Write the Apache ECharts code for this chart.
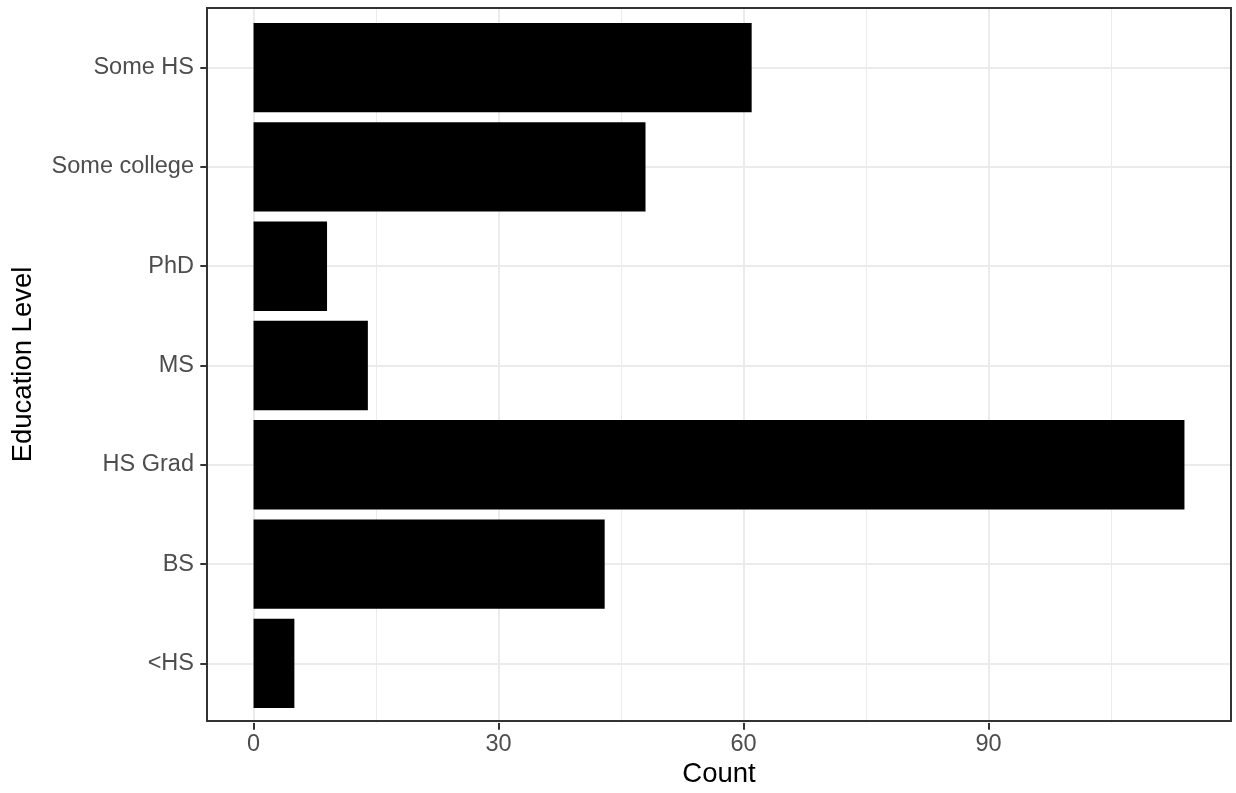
<!DOCTYPE html>
<html>
<head>
<meta charset="utf-8">
<script src="https://cdn.jsdelivr.net/npm/echarts@6/dist/echarts.min.js"></script>
<style>
html, body { margin: 0; padding: 0; background: #fff; }
#chart { width: 1236px; height: 793px; }
</style>
</head>
<body>
<div id="chart"></div>
<script>
// data (bottom to top, as the category axis runs)
var categories = ['<HS', 'BS', 'HS Grad', 'MS', 'PhD', 'Some college', 'Some HS'];
var counts = [5, 43, 114, 14, 9, 48, 61];
var xTicks = [0, 30, 60, 90];

// panel box, px
var L = 207, R = 1231, T = 8, B = 723;

// ggplot style expansion: 5% on the count axis, 0.6 band on the discrete one
var dataMax = Math.max.apply(null, counts);
var xLo = -0.05 * dataMax, xHi = 1.05 * dataMax;
var pxU = (R - L) / (xHi - xLo);
var x0 = L - xLo * pxU;
var xEnd = 120;
var band = (B - T) / (categories.length + 0.2);

var font = 'Liberation Sans, Arial, sans-serif';
var tickColor = '#333333';
var labColor = '#4D4D4D';
var gridColor = '#EBEBEB';

var hidden = { show: false };

var myChart = echarts.init(document.getElementById('chart'));

var option = {
  animation: false,
  backgroundColor: '#fff',
  textStyle: { fontFamily: font },
  grid: [
    // 0: panel border + axis titles
    { left: L, top: T, width: R - L, height: B - T, show: true,
      borderColor: '#333333', borderWidth: 2, backgroundColor: 'transparent', z: 10 },
    // 1: bars
    { left: x0, top: T + 0.1 * band, width: xEnd * pxU, height: categories.length * band },
    // 2: vertical grid lines + x labels
    { left: x0, top: T, width: xEnd * pxU, height: B - T },
    // 3: horizontal grid lines + y labels
    { left: L, top: T + 0.6 * band, width: R - L, height: (categories.length - 1) * band }
  ],
  xAxis: [
    { gridIndex: 0, type: 'value', min: 0, max: 1,
      axisLine: hidden, axisTick: hidden, axisLabel: hidden, splitLine: hidden,
      name: 'Count', nameLocation: 'middle', nameGap: 39,
      nameTextStyle: { color: '#000', fontSize: 27.5, fontFamily: font } },
    { gridIndex: 1, type: 'value', min: 0, max: xEnd, show: false },
    { gridIndex: 2, type: 'value', min: 0, max: xEnd, interval: 30,
      axisLine: hidden,
      axisTick: { show: true, length: 6.7, customValues: xTicks,
        lineStyle: { color: tickColor, width: 2 } },
      axisLabel: { color: labColor, fontSize: 23.5, margin: 10, fontFamily: font,
        customValues: xTicks },
      splitLine: { show: true, lineStyle: { color: gridColor, width: 2 } },
      minorTick: { show: false, splitNumber: 2 },
      minorSplitLine: { show: true, lineStyle: { color: gridColor, width: 1 } } },
    { gridIndex: 3, type: 'value', min: 0, max: 1, show: false }
  ],
  yAxis: [
    { gridIndex: 0, type: 'value', min: 0, max: 1,
      axisLine: hidden, axisTick: hidden, axisLabel: hidden, splitLine: hidden,
      name: 'Education Level', nameLocation: 'middle', nameGap: 170,
      nameTextStyle: { color: '#000', fontSize: 27.5, fontFamily: font } },
    { gridIndex: 1, type: 'category', data: categories, show: false },
    { gridIndex: 2, type: 'value', min: 0, max: 1, show: false },
    { gridIndex: 3, type: 'category', data: categories, boundaryGap: false,
      axisLine: hidden,
      axisTick: { show: true, length: 6.7, interval: 0,
        lineStyle: { color: tickColor, width: 2 } },
      axisLabel: { color: labColor, fontSize: 23.5, margin: 13, interval: 0, fontFamily: font },
      splitLine: { show: true, interval: 0, lineStyle: { color: gridColor, width: 2 } } }
  ],
  series: [
    { name: 'Count', type: 'bar', xAxisIndex: 1, yAxisIndex: 1,
      data: counts, barWidth: '90%', itemStyle: { color: '#000' } }
  ]
};

myChart.setOption(option);
</script>
</body>
</html>
